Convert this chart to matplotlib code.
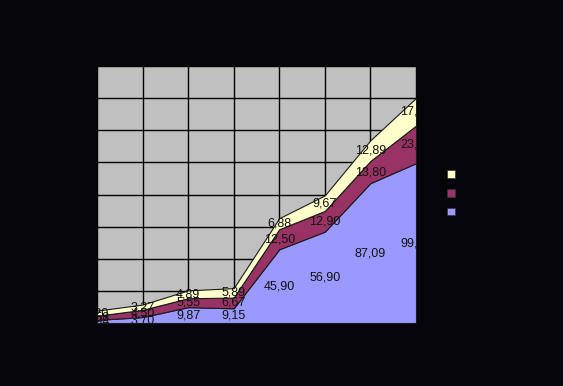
import numpy as np
import matplotlib.pyplot as plt
from matplotlib.patches import Patch

# data (stacked, bottom to top)
points = [1, 2, 3, 4, 5, 6, 7, 8]
series_a = [1.94, 3.70, 9.87, 9.15, 45.90, 56.90, 87.09, 99.50]
series_b = [2.58, 4.50, 5.55, 6.67, 12.50, 12.90, 13.80, 23.40]
series_c = [3.20, 3.27, 4.89, 5.89, 6.88, 9.67, 12.89, 17.20]
names = ["Series 1", "Series 2", "Series 3"]
colors = ["#9999ff", "#993366", "#ffffcc"]

bg = "#05050a"
plt.rcParams['font.family'] = ['Liberation Sans', 'DejaVu Sans']

fig = plt.figure(figsize=(5.63, 3.86), dpi=100, facecolor=bg)
ax = fig.add_axes([97/563, 1 - 323/386, (416 - 97)/563, (323 - 66)/386])
ax.set_facecolor("#c0c0c0")

x = np.arange(len(points))
stack = np.vstack([series_a, series_b, series_c])
ax.stackplot(x, stack, colors=colors, edgecolor="#1a1a1a", linewidth=0.8)

# value labels in the middle of each band
base = np.zeros(len(points))
for vals in stack:
    for i, v in enumerate(vals):
        ax.text(x[i], base[i] + v / 2, f"{v:.2f}".replace(".", ","),
                ha="center", va="center", fontsize=9, color="#111111",
                clip_on=True)
    base = base + vals

ax.set_xlim(0, len(points) - 1)
ax.set_ylim(0, 160)
ax.set_xticks(x)
ax.set_yticks(np.arange(0, 161, 20))
ax.set_xticklabels([])
ax.set_yticklabels([])
ax.tick_params(length=0)
ax.grid(True, color="black", linewidth=1)
ax.set_axisbelow(True)
for s in ax.spines.values():
    s.set_visible(False)

# legend text is black on black in the original
handles = [Patch(facecolor=c, edgecolor="#333333", linewidth=0.5) for c in colors][::-1]
fig.legend(handles, names[::-1], loc="center left",
           bbox_to_anchor=(436/563, 1 - 194/386), frameon=False,
           fontsize=9, labelcolor=bg, handlelength=0.6, handleheight=0.6,
           labelspacing=0.55, handletextpad=0.5)

fig.savefig("out.png", dpi=100, facecolor=bg)
